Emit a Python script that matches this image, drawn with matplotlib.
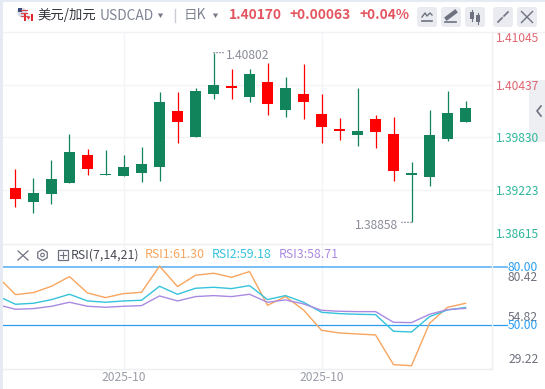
# USDCAD daily candles with RSI panel
import numpy as np
import matplotlib
matplotlib.use("Agg")
import matplotlib.pyplot as plt
from matplotlib.patches import FancyBboxPatch, Rectangle, RegularPolygon, Circle

plt.rcParams['font.family'] = ['Noto Sans CJK SC', 'Noto Sans', 'DejaVu Sans']

opens = [1.39252, 1.39091, 1.39183, 1.39309, 1.39630, 1.39400, 1.39389, 1.39423, 1.39492,
         1.40134, 1.39836, 1.40329, 1.40420, 1.40294, 1.40466, 1.40145, 1.40329, 1.40100,
         1.39928, 1.39859, 1.40042, 1.39870, 1.39400, 1.39378, 1.39813, 1.40008]
closes = [1.39125, 1.39194, 1.39355, 1.39664, 1.39469, 1.39412, 1.39492, 1.39527, 1.40237,
          1.40008, 1.40363, 1.40432, 1.40398, 1.40558, 1.40214, 1.40398, 1.40237, 1.39951,
          1.39905, 1.39905, 1.39893, 1.39446, 1.39423, 1.39859, 1.40111, 1.40170]
highs = [1.39469, 1.39366, 1.39572, 1.39870, 1.39698, 1.39687, 1.39630, 1.39721, 1.40352,
         1.40352, 1.40398, 1.40802, 1.40615, 1.40615, 1.40684, 1.40524, 1.40673, 1.40329,
         1.40054, 1.40398, 1.40088, 1.40065, 1.39549, 1.40145, 1.40363, 1.40249]
lows = [1.39034, 1.38965, 1.39068, 1.39309, 1.39400, 1.39400, 1.39389, 1.39320, 1.39332,
        1.39767, 1.39836, 1.40271, 1.40271, 1.40237, 1.40088, 1.40065, 1.40042, 1.39767,
        1.39802, 1.39733, 1.39710, 1.39332, 1.38858, 1.39274, 1.39790, 1.40008]

# RSI series start one bar before the first visible candle
rsi1 = [75.04, 65.78, 66.81, 70.07, 75.04, 66.64, 64.24, 66.29, 66.98, 80.42, 69.90, 75.73, 76.76, 74.70,
        77.62, 60.29, 64.75, 57.89, 47.43, 46.05, 45.54, 45.03, 29.76, 29.22, 51.03, 59.26, 61.30]
rsi2 = [65.09, 60.81, 61.32, 63.21, 65.95, 62.52, 61.84, 62.52, 62.86, 70.07, 65.95, 69.04, 69.55, 68.87,
        70.41, 63.21, 65.27, 61.84, 56.69, 56.00, 55.66, 55.49, 46.91, 46.57, 54.46, 57.89, 59.18]
rsi3 = [60.63, 58.23, 58.58, 59.78, 61.84, 59.78, 59.26, 59.78, 60.12, 65.09, 62.52, 64.75, 65.27, 64.75,
        65.95, 61.84, 63.04, 60.98, 57.72, 57.20, 57.03, 57.03, 51.54, 51.37, 55.66, 58.06, 58.71]

price_ticks = [1.41045, 1.40437, 1.39830, 1.39223, 1.38615]
date_ticks = [6, 17]
date_labels = ["2025-10", "2025-10"]

GREEN = "#11845b"
RED = "#ff0000"
GRID = "#f3f4f7"
ORANGE = "#f8a55f"
TEAL = "#35c3dc"
PURPLE = "#a98ae2"
BLUE = "#2a9df4"
W, H = 545, 389


def px_axes(left, top, right, bottom):
    # axes placed with pixel coordinates, y counted from the top
    return fig.add_axes([left / W, 1 - bottom / H, (right - left) / W, (bottom - top) / H])


fig = plt.figure(figsize=(W / 100, H / 100), dpi=100, facecolor="white")

# collapse tab on the right edge goes under the price labels
fig.add_artist(Rectangle((529 / W, 1 - 142 / H), 16 / W, 62 / H, transform=fig.transFigure,
                         color="#eeeff3", lw=0, zorder=-1))

# page furniture: borders, header, buttons. Sits above the panels so the legend row stays on top
bg = fig.add_axes([0, 0, 1, 1], zorder=5)
bg.set_xlim(0, W)
bg.set_ylim(H, 0)
bg.axis("off")
bg.add_patch(Rectangle((0, 0), 3, H, color="#e6eaf2", lw=0))
bg.add_patch(Rectangle((0, 0), W, 1.5, color="#e6eaf2", lw=0))
bg.plot([3, W], [31.5, 31.5], color="#f1f2f5", lw=1)
bg.plot([3, 492], [244, 244], color="#eeeff2", lw=1)
bg.plot([3, 492], [368.5, 368.5], color="#eeeff2", lw=1)
bg.plot([492, 492], [31.5, 368.5], color="#eeeff2", lw=1)
bg.plot([174.5, 174.5], [9, 22], color="#c9ccd3", lw=1)

# flag
bg.add_patch(Circle((22, 12.5), 4.8, color="#d9dbe6", lw=0))
bg.add_patch(Rectangle((18, 8), 4, 4, color="#3d4a7a", lw=0))
for yy in [10, 13, 16]:
    bg.plot([21, 27], [yy, yy], color="#d8434c", lw=0.8)
bg.add_patch(Circle((28.5, 17.5), 4.5, color="#f4f4f4", lw=0))
bg.add_patch(Rectangle((24, 14), 1.8, 7, color="#e1282e", lw=0))
bg.add_patch(Rectangle((31.2, 14), 1.8, 7, color="#e1282e", lw=0))
bg.add_patch(RegularPolygon((28.5, 17.5), 3, radius=2.2, color="#e1282e", lw=0))

bg.text(37, 14.5, "美元/加元", fontsize=9.6, color="#30323a", va="center")
bg.text(100, 15.5, "USDCAD", fontsize=9.9, color="#7f8494", va="center")
bg.text(184, 14.5, "日K", fontsize=9.8, color="#7f8494", va="center")
for cx in [160.5, 215.5]:
    bg.add_patch(RegularPolygon((cx, 15), 3, radius=3, orientation=0, color="#777b88", lw=0))
bg.text(229, 14.5, "1.40170", fontsize=9.9, color="#e2555f", va="center", fontweight="bold")
bg.text(289, 14.5, "+0.00063", fontsize=9.9, color="#e2555f", va="center", fontweight="bold")
bg.text(359, 14.5, "+0.04%", fontsize=9.9, color="#e2555f", va="center", fontweight="bold")

for bx in [417, 441, 465, 493, 517]:
    bg.add_patch(FancyBboxPatch((bx + 2, 9), 16, 16, boxstyle="round,pad=2,rounding_size=3",
                                fc="#e9ebf0", ec="none"))
ICON = "#6e7280"
bg.plot([422, 425, 427, 430, 432], [17, 13, 16, 13, 15], color=ICON, lw=1)
bg.plot([422, 432], [21, 21], color=ICON, lw=1.2)
bg.plot([447, 455], [18, 12], color=ICON, lw=3)
bg.plot([445, 456], [21.5, 21.5], color=ICON, lw=1.2)
for cx, y0, y1 in [(472, 12, 19), (478, 15, 22)]:
    bg.plot([cx, cx], [y0 - 2, y1 + 2], color=ICON, lw=0.8)
    bg.add_patch(Rectangle((cx - 2, y0), 4, y1 - y0, color=ICON, lw=0))
bg.plot([498, 502], [22, 18], color=ICON, lw=1.2)
bg.plot([504, 508], [16, 12], color=ICON, lw=1.2)
bg.plot([521.5, 532.5], [11.5, 22.5], color=ICON, lw=1)
bg.plot([532.5, 521.5], [11.5, 22.5], color=ICON, lw=1)
bg.plot([541, 537, 541], [106, 111, 116], color=ICON, lw=1.2)

# candle panel
ax = px_axes(3, 31.5, 492, 243.5)
ax.set_facecolor("none")
ax.set_xlim(-0.694, 26.47)
ax.set_ylim(price_ticks[-1], price_ticks[0])
x = np.arange(len(opens))
colors = [GREEN if c >= o else RED for o, c in zip(opens, closes)]
ax.vlines(x, lows, highs, colors=colors, lw=0.9, zorder=3)
bottoms = np.minimum(opens, closes)
heights = np.maximum(np.abs(np.subtract(closes, opens)), 0.00012)
ax.bar(x, heights, bottom=bottoms, width=0.61, color=colors, zorder=3)
ax.set_yticks(price_ticks[1:-1])
ax.set_xticks(date_ticks)
ax.grid(True, color=GRID, lw=1)
ax.set_axisbelow(True)
ax.tick_params(length=0, labelbottom=False, labelright=False, labelleft=False)
for s in ax.spines.values():
    s.set_visible(False)
for i, p in enumerate(price_ticks):
    off = {0: -7.5, 4: 9.5}.get(i, -1.5)
    ax.annotate(f"{p:.5f}", (1, p), xycoords=("axes fraction", "data"), xytext=(3.5, off),
                textcoords="offset pixels", fontsize=8.7, va="center", ha="left",
                color="#e2656f" if i < 2 else "#2fb69c", annotation_clip=False)

# high / low markers with a flat dotted leader
hi = int(np.argmax(highs))
lo = int(np.argmin(lows))
leader = dict(arrowstyle="-", ls=":", color="#8b8e9a", lw=0.8, shrinkA=0, shrinkB=0)
ax.annotate("", (hi, highs[hi]), xytext=(10, 0), textcoords="offset pixels", arrowprops=leader)
ax.annotate("", (lo, lows[lo]), xytext=(-10, 0), textcoords="offset pixels", arrowprops=leader)
ax.annotate(f"{highs[hi]:.5f}", (hi, highs[hi]), xytext=(12, -3), textcoords="offset pixels",
            fontsize=8.7, color="#8b8e9a", va="center", ha="left")
ax.annotate(f"{lows[lo]:.5f}", (lo, lows[lo]), xytext=(-13, -3), textcoords="offset pixels",
            fontsize=8.7, color="#8b8e9a", va="center", ha="right")

# RSI panel
ax2 = px_axes(3, 244, 492, 368.5)
ax2.set_facecolor("none")
ax2.set_xlim(ax.get_xlim())
ax2.set_ylim(27.78, 91.8)
xr = np.arange(-1, len(opens))
ax2.plot(xr, rsi1, color=ORANGE, lw=1, zorder=3)
ax2.plot(xr, rsi2, color=TEAL, lw=1, zorder=3)
ax2.plot(xr, rsi3, color=PURPLE, lw=1, zorder=3)
ax2.set_yticks([])
ax2.set_xticks(date_ticks)
ax2.set_xticklabels(date_labels, fontsize=8.7, color="#9a9da8")
ax2.grid(True, axis="x", color=GRID, lw=1)
ax2.set_axisbelow(True)
ax2.tick_params(length=0, pad=2)
for s in ax2.spines.values():
    s.set_visible(False)

# overbought / oversold lines run past the axis edge into the labels
trans = ax2.get_yaxis_transform()
ax2.plot([0, 1.031], [80, 80], transform=trans, color="#6cb9f5", lw=1.3, clip_on=False, zorder=2)
ax2.plot([0, 1.031], [50, 50], transform=trans, color=BLUE, lw=0.9, clip_on=False, zorder=2)

rsi_labels = [(80.0, -0.5, BLUE), (max(rsi1), -11, "#6d707c"), (54.82, -2, "#6d707c"),
              (50.0, -0.5, BLUE), (min(rsi1), 6, "#6d707c")]
for val, off, col in rsi_labels:
    ax2.annotate(f"{val:.2f}", (1, val), xycoords=("axes fraction", "data"), xytext=(16, off),
                 textcoords="offset pixels", fontsize=8.7, va="center", ha="left", color=col,
                 annotation_clip=False)

# indicator legend row
bg.plot([18, 28], [251, 260], color=ICON, lw=0.9)
bg.plot([28, 18], [251, 260], color=ICON, lw=0.9)
bg.add_patch(RegularPolygon((42.5, 255), 6, radius=5.5, fc="none", ec=ICON, lw=0.9))
bg.add_patch(Circle((42.5, 255), 1.8, fc="none", ec=ICON, lw=0.8))
bg.add_patch(Rectangle((57.5, 250), 10, 10, fc="none", ec=ICON, lw=0.9))
bg.plot([59.5, 65.5], [255, 255], color=ICON, lw=0.8)
bg.plot([62.5, 62.5], [252, 258], color=ICON, lw=0.8)
bg.text(71, 255, "RSI(7,14,21)", fontsize=8.9, color="#4a4c55", va="center")
bg.text(145, 255, f"RSI1:{rsi1[-1]:.2f}", fontsize=8.9, color=ORANGE, va="center")
bg.text(212, 255, f"RSI2:{rsi2[-1]:.2f}", fontsize=8.9, color=TEAL, va="center")
bg.text(279, 255, f"RSI3:{rsi3[-1]:.2f}", fontsize=8.9, color=PURPLE, va="center")

fig.savefig("out.png", dpi=100)
